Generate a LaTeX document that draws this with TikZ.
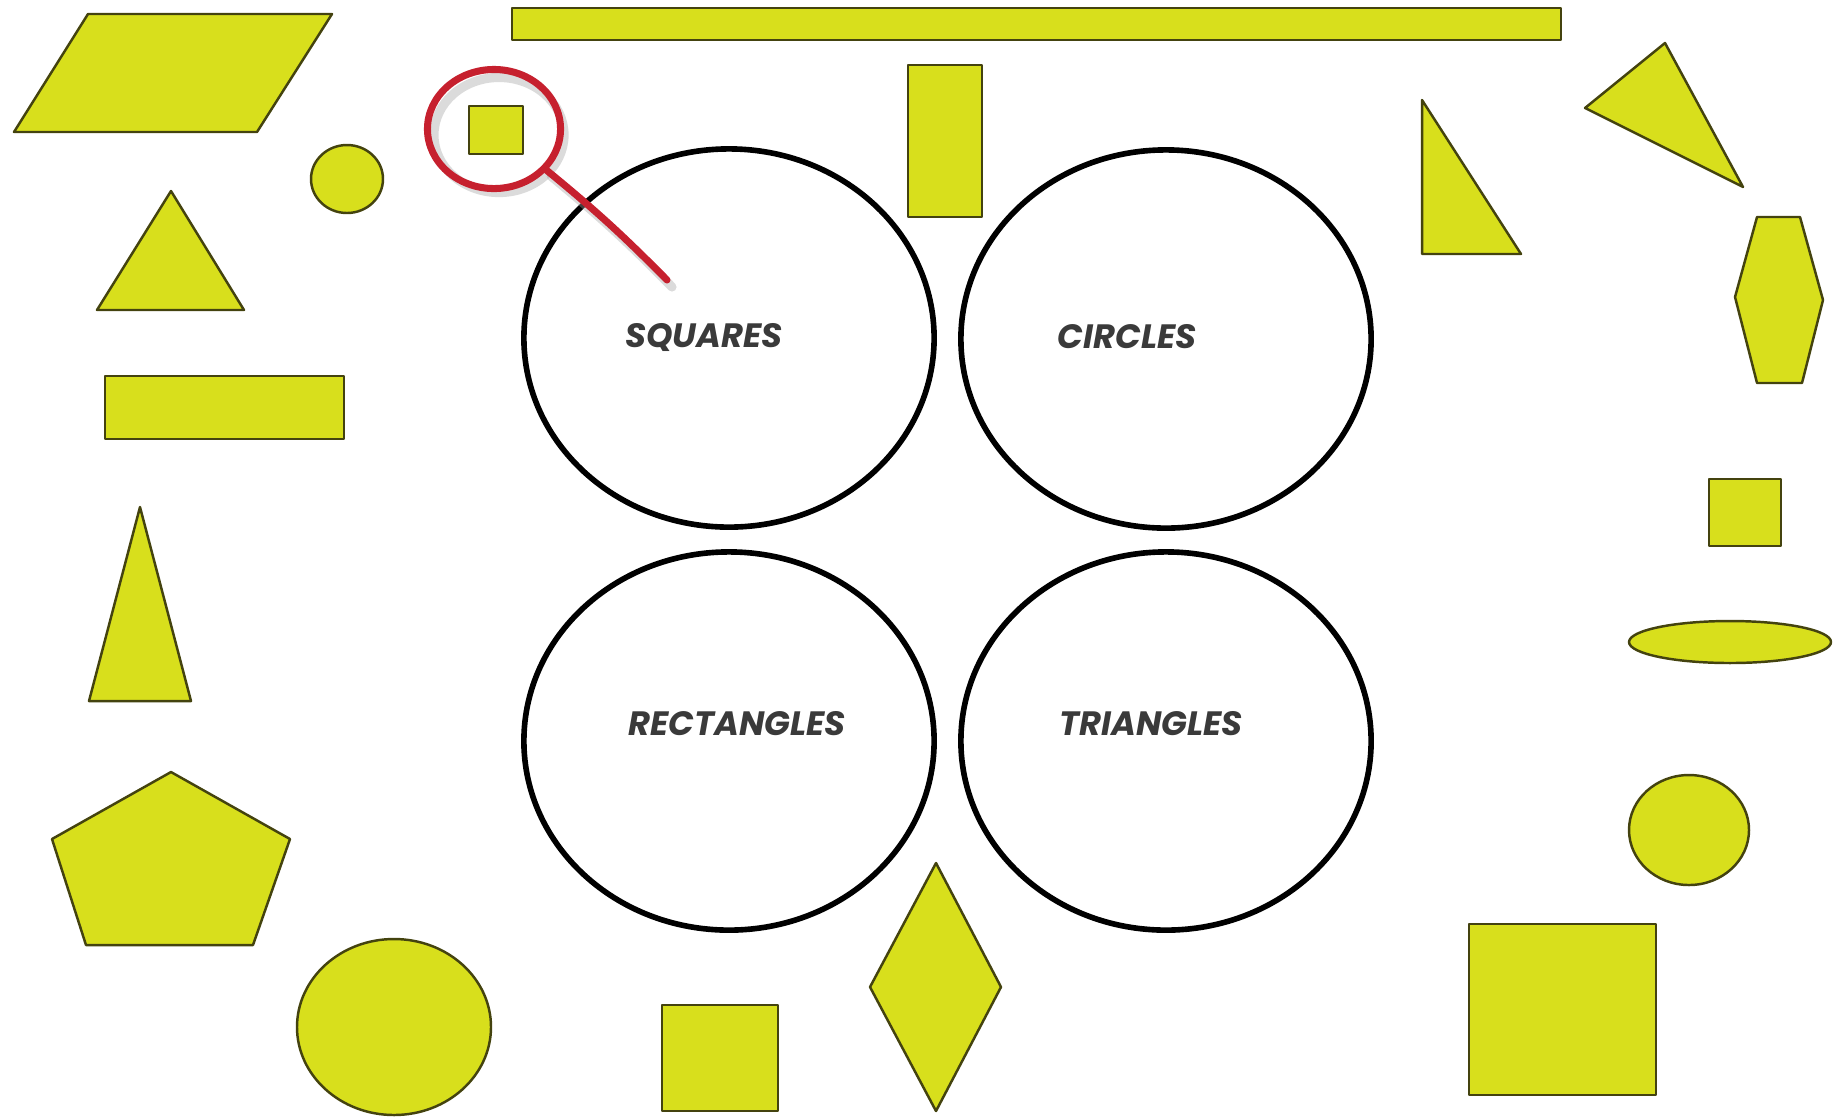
\documentclass[tikz,border=0pt]{standalone}
\usepackage{fontspec}
\usetikzlibrary{shapes.geometric,positioning}
\newfontfamily\gothfont{Poppins}
\definecolor{shapeyellow}{HTML}{D8DF1C}
\definecolor{shapeedge}{HTML}{44430F}
\definecolor{markred}{HTML}{C6202E}
\definecolor{labelgray}{HTML}{3A3A3A}

\begin{document}
\begin{tikzpicture}[
  x=0.01cm, y=-0.01cm,
  piece/.style={fill=shapeyellow, draw=shapeedge, line width=0.7pt, line join=round},
  sortring/.style={ellipse, draw=black, line width=1.6pt, minimum width=4.1cm, minimum height=3.78cm, inner sep=0pt},
  sortlabel/.style={font=\gothfont\bfseries\itshape\fontsize{9.6}{12}\selectfont, text=labelgray},
  marker/.style={draw=markred, line width=2pt, line cap=round},
  markshade/.style={draw=black!35, opacity=0.4, line width=2.6pt, line cap=round}
]
  \useasboundingbox (0,0) rectangle (1846,1117);

  % Sorting rings
  \node[sortring] (squares) at (729,338) {};
  \node[sortring] (circles) at (1166,339) {};
  \node[sortring] (rects) at (729,741) {};
  \node[sortring] (tris) at (1166,741) {};
  \node[sortlabel] (squareslbl) at (704,337) {SQUARES};
  \node[sortlabel] (circleslbl) at (1127,337) {CIRCLES};
  \node[sortlabel] (rectslbl) at (737,724) {RECTANGLES};
  \node[sortlabel] (trislbl) at (1151,724) {TRIANGLES};

  % Top row
  \filldraw[piece] (14,132) -- (257,132) -- (332,14) -- (88,14) -- cycle;
  \filldraw[piece] (512,8) rectangle (1561,40);
  \filldraw[piece] (347,179) ellipse [x radius=36, y radius=34];
  \filldraw[piece] (469,106) rectangle (523,154);
  \filldraw[piece] (908,65) rectangle (982,217);
  \filldraw[piece] (1422,100) -- (1422,254) -- (1521,254) -- cycle;
  \filldraw[piece] (1585,108) -- (1665,43) -- (1743,187) -- cycle;

  % Left column
  \filldraw[piece] (171,191) -- (244,310) -- (97,310) -- cycle;
  \filldraw[piece] (105,376) rectangle (344,439);
  \filldraw[piece] (140,507) -- (191,701) -- (89,701) -- cycle;
  \filldraw[piece] (171,772) -- (290,839) -- (253,945) -- (86,945) -- (52,839) -- cycle;

  % Bottom row
  \filldraw[piece] (394,1027) ellipse [x radius=97, y radius=88];
  \filldraw[piece] (662,1005) rectangle (778,1111);
  \filldraw[piece] (936,863) -- (1001,987) -- (936,1111) -- (870,987) -- cycle;

  % Right column
  \filldraw[piece] (1757,217) -- (1800,217) -- (1823,300) -- (1802,383) -- (1757,383) -- (1735,297) -- cycle;
  \filldraw[piece] (1709,479) rectangle (1781,546);
  \filldraw[piece] (1730,642) ellipse [x radius=101, y radius=21];
  \filldraw[piece] (1689,830) ellipse [x radius=60, y radius=55];
  \filldraw[piece] (1469,924) rectangle (1656,1095);

  % Marker on the small square
  \node[markshade, ellipse, minimum width=1.3cm, minimum height=1.15cm, inner sep=0pt] (ringshade) at (499,135) {};
  \coordinate (tipshade) at (672,287);
  \draw[markshade] (ringshade) to[bend left=3] (tipshade);
  \node[marker, ellipse, minimum width=1.33cm, minimum height=1.19cm, inner sep=0pt] (ring) at (494,129) {};
  \coordinate (tip) at (667,280);
  \draw[marker] (ring) to[bend left=3] (tip);
\end{tikzpicture}
\end{document}
